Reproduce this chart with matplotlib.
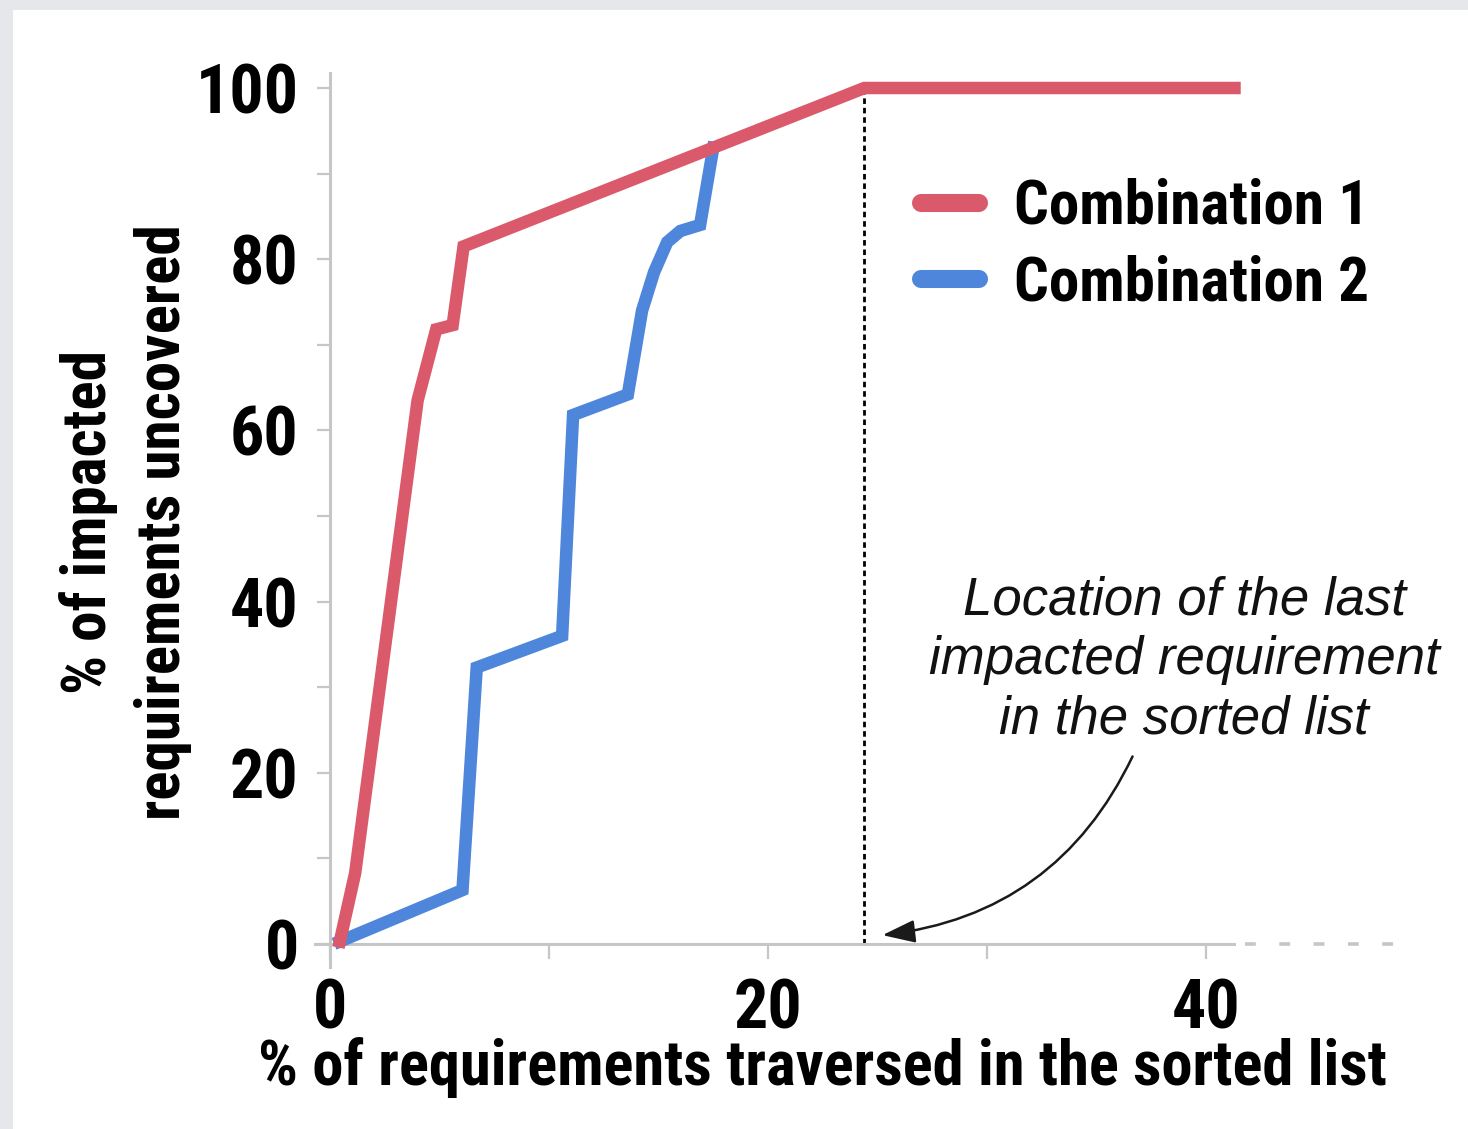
import matplotlib
matplotlib.use("Agg")
import matplotlib.pyplot as plt
from matplotlib import font_manager
from matplotlib.lines import Line2D
from matplotlib.patches import Rectangle

# ---------------- data ----------------
combo1_x = [0.45, 1.15, 4.0, 4.85, 5.6, 6.1, 24.4, 41.3]
combo1_y = [0.3, 8.3, 63.5, 71.8, 72.3, 81.5, 100.0, 100.0]

combo2_x = [0.45, 6.05, 6.7, 10.6, 11.1, 13.6, 14.25, 14.8, 15.4, 16.0, 16.9, 17.5]
combo2_y = [0.3, 6.3, 32.3, 36.0, 61.8, 64.2, 74.0, 78.5, 82.0, 83.3, 84.0, 93.0]

last_impacted_x = 24.4
series_names = ["Combination 1", "Combination 2"]
x_ticks = [0, 10, 20, 30, 40]
x_tick_labels = ["0", "", "20", "", "40"]
y_ticks = [0, 10, 20, 30, 40, 50, 60, 70, 80, 90, 100]
y_tick_labels = ["0", "", "20", "", "40", "", "60", "", "80", "", "100"]
axis_extension = [41.8, 48.9]

RED = "#DA5A6B"
BLUE = "#4E86DB"
SPINE = "#c6c6c6"

# ---------------- fonts ----------------
installed = {f.name for f in font_manager.fontManager.ttflist}
bold_family = [f for f in ["Roboto Condensed", "IBM Plex Sans Condensed", "Open Sans Condensed",
                           "Liberation Sans Narrow", "Liberation Sans", "DejaVu Sans"] if f in installed]
ital_family = [f for f in ["Liberation Sans", "DejaVu Sans"] if f in installed]

W, H = 1468, 1129
fig = plt.figure(figsize=(W / 100, H / 100), dpi=100)
fig.patch.set_facecolor("#e5e7ea")
bg = Rectangle((13 / W, 0), 1 - 13 / W, 1 - 10 / H, transform=fig.transFigure,
               facecolor="white", edgecolor="none", zorder=-10)
fig.add_artist(bg)

# axes geometry: data x=0 -> px 330, 21.9 px/unit; y=0 -> py 944, 8.56 px/unit
x0, xs = 330.0, 21.9
y0, ys = 944.0, 8.56
xmin, xmax = -1.5, 50.0
ymin, ymax = -3.0, 104.0
lpx = x0 + xmin * xs
rpx = x0 + xmax * xs
bpx = y0 - ymin * ys
tpx = y0 - ymax * ys
ax = fig.add_axes([lpx / W, (H - bpx) / H, (rpx - lpx) / W, (bpx - tpx) / H])
ax.set_zorder(1)
ax.set_facecolor("none")
ax.set_xlim(xmin, xmax)
ax.set_ylim(ymin, ymax)

for s in ["top", "right"]:
    ax.spines[s].set_visible(False)
ax.spines["left"].set_position(("data", 0))
ax.spines["bottom"].set_position(("data", 0))
ax.spines["left"].set_bounds(-2.7, 101.7)
ax.spines["bottom"].set_bounds(-0.7, 41.3)
for s in ["left", "bottom"]:
    ax.spines[s].set_color(SPINE)
    ax.spines[s].set_linewidth(2.2)

ax.set_xticks(x_ticks)
ax.set_xticklabels(x_tick_labels)
ax.set_yticks(y_ticks)
ax.set_yticklabels(y_tick_labels)
ax.tick_params(axis="y", direction="out", length=9.5, width=1.6, color=SPINE, pad=13)
ax.tick_params(axis="x", direction="out", length=11, width=1.6, color=SPINE, pad=13)
for lab in ax.get_xticklabels() + ax.get_yticklabels():
    lab.set_family(bold_family)
    lab.set_fontweight("bold")
    lab.set_fontsize(49)
    lab.set_color("black")

# dashed extension of the x axis
ax.plot(axis_extension, [0, 0], color=SPINE, lw=2.6, linestyle=(0, (3.0, 6.5)),
        clip_on=False, zorder=1)

# vertical dotted line
ax.vlines(last_impacted_x, 0, 100, colors="black", linestyles=(0, (2.0, 1.4)), lw=2.0, zorder=2)

# data lines
ax.plot(combo2_x, combo2_y, color=BLUE, lw=9, solid_joinstyle="miter", zorder=3)
ax.plot(combo1_x, combo1_y, color=RED, lw=9, solid_joinstyle="miter", zorder=4)

# legend
handles = [Line2D([], [], color=RED, lw=13, solid_capstyle="round"),
           Line2D([], [], color=BLUE, lw=13, solid_capstyle="round")]
leg = ax.legend(handles, series_names, loc="upper left",
                bbox_to_anchor=(921 / W, 1 - 178 / H), bbox_transform=fig.transFigure,
                frameon=False, handlelength=0.95, handletextpad=0.58,
                labelspacing=0.3, borderpad=0, borderaxespad=0,
                prop={"family": bold_family, "weight": "bold", "size": 44})

# annotation
ax.text(39.0, 33.2, "Location of the last\nimpacted requirement\nin the sorted list",
        ha="center", va="center", fontsize=38, style="italic", family=ital_family,
        linespacing=1.25, color="#111111")
ax.annotate("", xy=(25.1, 1.0), xytext=(36.7, 22.2),
            arrowprops=dict(arrowstyle="-|>,head_length=2.0,head_width=0.7",
                            color="#1a1a1a", lw=1.8,
                            connectionstyle="arc3,rad=-0.28"))

# axis labels
fig.text(822 / W, 1 - 1068 / H, "% of requirements traversed in the sorted list",
         ha="center", va="center", family=bold_family, fontweight="bold", fontsize=45)
fig.text(125.5 / W, 1 - 522 / H, "% of impacted\nrequirements uncovered",
         ha="center", va="center", rotation=90, family=bold_family, fontweight="bold",
         fontsize=44, linespacing=1.33, multialignment="center")

fig.savefig("out.png", dpi=100, facecolor=fig.get_facecolor())
